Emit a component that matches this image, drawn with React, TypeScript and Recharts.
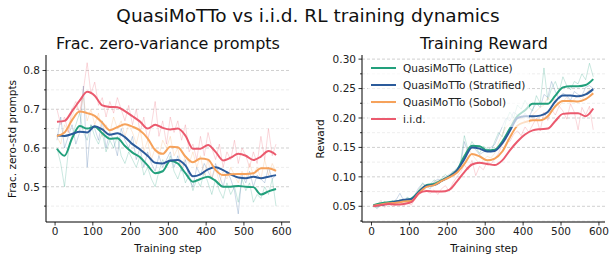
import React from "react";
import { CartesianGrid, Legend, Line, LineChart, XAxis, YAxis } from "recharts";

const FONT = '"DejaVu Sans", sans-serif';

const seriesNames = ["QuasiMoTTo (Lattice)", "QuasiMoTTo (Stratified)", "QuasiMoTTo (Sobol)", "i.i.d."];
const seriesColors = ["#22a07c", "#2b5b9b", "#f6a25b", "#eb5a6e"];

// logged every 10 steps
const rawSteps = [
  5, 15, 25, 35, 45, 55, 65, 75, 85, 95,
  105, 115, 125, 135, 145, 155, 165, 175, 185, 195,
  205, 215, 225, 235, 245, 255, 265, 275, 285, 295,
  305, 315, 325, 335, 345, 355, 365, 375, 385, 395,
  405, 415, 425, 435, 445, 455, 465, 475, 485, 495,
  505, 515, 525, 535, 545, 555, 565, 575, 585,
];

// smoothed curves sampled every 20 steps
const smoothSteps = [
  5, 25, 45, 65, 85, 105, 125, 145, 165, 185,
  205, 225, 245, 265, 285, 305, 325, 345, 365, 385,
  405, 425, 445, 465, 485, 505, 525, 545, 565, 585,
];

// ---- fraction of zero-std prompts ----
const zeroStdRawLattice = [
  0.60, 0.56, 0.50, 0.59, 0.63, 0.66, 0.69, 0.64, 0.62, 0.66,
  0.63, 0.61, 0.64, 0.59, 0.62, 0.60, 0.63, 0.58, 0.56, 0.59,
  0.57, 0.55, 0.58, 0.53, 0.55, 0.52, 0.50, 0.54, 0.57, 0.55,
  0.58, 0.54, 0.52, 0.55, 0.51, 0.53, 0.49, 0.52, 0.50, 0.54,
  0.51, 0.48, 0.52, 0.49, 0.47, 0.51, 0.48, 0.50, 0.46, 0.52,
  0.49, 0.51, 0.46, 0.48, 0.47, 0.50, 0.48, 0.52, 0.45,
];
const zeroStdRawStratified = [
  0.62, 0.68, 0.60, 0.63, 0.66, 0.61, 0.64, 0.76, 0.55, 0.66,
  0.65, 0.62, 0.67, 0.60, 0.64, 0.62, 0.58, 0.65, 0.62, 0.60,
  0.63, 0.57, 0.60, 0.55, 0.59, 0.56, 0.54, 0.58, 0.55, 0.57,
  0.59, 0.55, 0.58, 0.54, 0.57, 0.52, 0.50, 0.55, 0.53, 0.56,
  0.54, 0.52, 0.56, 0.53, 0.50, 0.54, 0.52, 0.49, 0.43, 0.53,
  0.51, 0.54, 0.50, 0.53, 0.52, 0.51, 0.55, 0.52, 0.53,
];
const zeroStdRawSobol = [
  0.63, 0.61, 0.66, 0.64, 0.68, 0.71, 0.69, 0.73, 0.67, 0.70,
  0.66, 0.69, 0.63, 0.66, 0.64, 0.68, 0.65, 0.67, 0.63, 0.66,
  0.64, 0.61, 0.65, 0.59, 0.62, 0.57, 0.60, 0.58, 0.62, 0.60,
  0.63, 0.58, 0.60, 0.55, 0.58, 0.56, 0.59, 0.55, 0.58, 0.53,
  0.57, 0.52, 0.55, 0.51, 0.54, 0.52, 0.55, 0.53, 0.51, 0.54,
  0.52, 0.56, 0.53, 0.55, 0.52, 0.57, 0.53, 0.56, 0.54,
];
const zeroStdRawIid = [
  0.70, 0.66, 0.68, 0.64, 0.70, 0.72, 0.69, 0.75, 0.82, 0.74,
  0.77, 0.71, 0.73, 0.68, 0.72, 0.69, 0.73, 0.70, 0.67, 0.71,
  0.66, 0.70, 0.64, 0.68, 0.62, 0.66, 0.72, 0.63, 0.67, 0.61,
  0.68, 0.64, 0.67, 0.62, 0.66, 0.59, 0.61, 0.57, 0.63, 0.58,
  0.64, 0.60, 0.57, 0.61, 0.55, 0.59, 0.57, 0.62, 0.56, 0.60,
  0.58, 0.55, 0.59, 0.56, 0.63, 0.57, 0.65, 0.58, 0.61,
];

const zeroStdSmoothLattice = [
  0.598, 0.580, 0.625, 0.657, 0.650, 0.655, 0.638, 0.624, 0.625, 0.605,
  0.588, 0.576, 0.555, 0.535, 0.540, 0.567, 0.560, 0.535, 0.513, 0.520,
  0.526, 0.515, 0.500, 0.500, 0.502, 0.500, 0.499, 0.480, 0.488, 0.494,
];
const zeroStdSmoothStratified = [
  0.632, 0.631, 0.636, 0.642, 0.640, 0.656, 0.648, 0.634, 0.638, 0.628,
  0.610, 0.596, 0.580, 0.562, 0.560, 0.568, 0.569, 0.555, 0.527, 0.532,
  0.545, 0.550, 0.543, 0.532, 0.524, 0.522, 0.526, 0.522, 0.526, 0.530,
];
const zeroStdSmoothSobol = [
  0.631, 0.640, 0.672, 0.694, 0.690, 0.683, 0.665, 0.646, 0.654, 0.661,
  0.655, 0.645, 0.625, 0.595, 0.585, 0.603, 0.602, 0.578, 0.563, 0.573,
  0.570, 0.543, 0.530, 0.532, 0.533, 0.533, 0.535, 0.548, 0.548, 0.541,
];
const zeroStdSmoothIid = [
  0.668, 0.670, 0.695, 0.722, 0.745, 0.735, 0.710, 0.706, 0.705, 0.695,
  0.682, 0.668, 0.650, 0.660, 0.652, 0.648, 0.650, 0.632, 0.598, 0.598,
  0.608, 0.590, 0.568, 0.575, 0.585, 0.580, 0.569, 0.578, 0.592, 0.582,
];

// ---- training reward ----
const rewardRawLattice = [
  0.050, 0.047, 0.055, 0.058, 0.052, 0.060, 0.056, 0.062, 0.059, 0.066,
  0.058, 0.064, 0.078, 0.090, 0.083, 0.087, 0.095, 0.090, 0.098, 0.104,
  0.098, 0.110, 0.106, 0.125, 0.170, 0.145, 0.160, 0.150, 0.140, 0.152,
  0.148, 0.142, 0.160, 0.175, 0.168, 0.195, 0.210, 0.200, 0.222, 0.215,
  0.230, 0.218, 0.212, 0.238, 0.225, 0.285, 0.230, 0.250, 0.262, 0.245,
  0.270, 0.255, 0.248, 0.262, 0.258, 0.275, 0.265, 0.293, 0.270,
];
const rewardRawStratified = [
  0.052, 0.046, 0.053, 0.057, 0.055, 0.058, 0.061, 0.072, 0.060, 0.064,
  0.062, 0.070, 0.082, 0.088, 0.084, 0.080, 0.092, 0.096, 0.094, 0.100,
  0.104, 0.108, 0.115, 0.120, 0.160, 0.140, 0.152, 0.146, 0.138, 0.142,
  0.145, 0.150, 0.155, 0.170, 0.185, 0.200, 0.195, 0.210, 0.205, 0.198,
  0.208, 0.200, 0.215, 0.225, 0.218, 0.240, 0.235, 0.262, 0.245, 0.232,
  0.242, 0.238, 0.230, 0.245, 0.240, 0.238, 0.252, 0.255, 0.250,
];
const rewardRawSobol = [
  0.051, 0.055, 0.049, 0.058, 0.054, 0.052, 0.060, 0.055, 0.058, 0.062,
  0.056, 0.066, 0.078, 0.085, 0.082, 0.086, 0.090, 0.094, 0.092, 0.098,
  0.102, 0.106, 0.112, 0.118, 0.135, 0.150, 0.138, 0.130, 0.122, 0.128,
  0.135, 0.132, 0.140, 0.158, 0.172, 0.185, 0.190, 0.198, 0.192, 0.200,
  0.195, 0.190, 0.205, 0.212, 0.218, 0.222, 0.235, 0.228, 0.232, 0.220,
  0.228, 0.235, 0.225, 0.232, 0.238, 0.230, 0.242, 0.248, 0.240,
];
const rewardRawIid = [
  0.050, 0.052, 0.060, 0.048, 0.055, 0.050, 0.052, 0.058, 0.050, 0.056,
  0.052, 0.062, 0.070, 0.082, 0.076, 0.072, 0.078, 0.070, 0.080, 0.085,
  0.076, 0.090, 0.100, 0.108, 0.120, 0.112, 0.128, 0.102, 0.118, 0.112,
  0.125, 0.122, 0.130, 0.140, 0.155, 0.165, 0.160, 0.172, 0.178, 0.170,
  0.185, 0.176, 0.188, 0.200, 0.178, 0.210, 0.196, 0.215, 0.205, 0.220,
  0.212, 0.198, 0.224, 0.210, 0.180, 0.218, 0.205, 0.220, 0.180,
];

const rewardSmoothLattice = [
  0.052, 0.055, 0.057, 0.058, 0.060, 0.063, 0.075, 0.086, 0.088, 0.094,
  0.101, 0.111, 0.135, 0.153, 0.152, 0.145, 0.146, 0.160, 0.182, 0.203,
  0.213, 0.224, 0.224, 0.224, 0.238, 0.252, 0.254, 0.254, 0.256, 0.266,
];
const rewardSmoothStratified = [
  0.051, 0.052, 0.055, 0.058, 0.061, 0.062, 0.074, 0.085, 0.086, 0.093,
  0.100, 0.110, 0.130, 0.150, 0.148, 0.143, 0.144, 0.157, 0.178, 0.200,
  0.203, 0.203, 0.204, 0.210, 0.228, 0.238, 0.238, 0.237, 0.240, 0.249,
];
const rewardSmoothSobol = [
  0.051, 0.053, 0.055, 0.056, 0.058, 0.059, 0.072, 0.083, 0.086, 0.093,
  0.099, 0.107, 0.122, 0.139, 0.135, 0.128, 0.131, 0.143, 0.167, 0.187,
  0.193, 0.196, 0.196, 0.203, 0.220, 0.229, 0.229, 0.228, 0.232, 0.242,
];
const rewardSmoothIid = [
  0.050, 0.052, 0.054, 0.053, 0.054, 0.057, 0.072, 0.076, 0.075, 0.075,
  0.078, 0.092, 0.108, 0.121, 0.124, 0.122, 0.120, 0.128, 0.145, 0.160,
  0.172, 0.179, 0.181, 0.182, 0.195, 0.207, 0.208, 0.208, 0.203, 0.216,
];

const stepTicks = [0, 100, 200, 300, 400, 500, 600];
const zeroStdMajor = [0.5, 0.6, 0.7, 0.8];
const zeroStdMinor = [0.45, 0.55, 0.65, 0.75];
const rewardMajor = [0.05, 0.1, 0.15, 0.2, 0.25, 0.3];
const rewardMinor = [0.025, 0.075, 0.125, 0.175, 0.225, 0.275];

const toPoints = (steps: number[], values: number[]) => steps.map((step, i) => ({ step, v: values[i] }));

type PanelProps = {
  width: number;
  top: number;
  right: number;
  yAxisWidth: number;
  xDomain: [number, number];
  yDomain: [number, number];
  major: number[];
  minor: number[];
  digits: number;
  raw: number[][];
  smooth: number[][];
  legend?: boolean;
};

function YTick(props: any) {
  const { y, payload, major, digits, spineX } = props;
  const isMajor = major.includes(payload.value);
  return (
    <g>
      <line x1={spineX - (isMajor ? 3.5 : 2)} x2={spineX} y1={y} y2={y} stroke="#000" strokeWidth={0.8} />
      {isMajor && (
        <text x={spineX - 6} y={y} dy="0.36em" textAnchor="end" fontSize={10.5} fontFamily={FONT} fill="#222">
          {payload.value.toFixed(digits)}
        </text>
      )}
    </g>
  );
}

// legend with a translucent white frame, as matplotlib draws it
function LegendBox() {
  return (
    <div style={{ display: "inline-block", background: "rgba(255,255,255,0.65)", paddingRight: 4, fontFamily: FONT, fontSize: 10.5, color: "#222" }}>
      {seriesNames.map((name, i) => (
        <div key={name} style={{ display: "flex", alignItems: "center", height: 16.8 }}>
          <svg width={32} height={16}>
            <line x1={3} x2={28} y1={8} y2={8} stroke={seriesColors[i]} strokeWidth={2} />
          </svg>
          <span style={{ marginLeft: 3, whiteSpace: "nowrap" }}>{name}</span>
        </div>
      ))}
    </div>
  );
}

function Panel(p: PanelProps) {
  const allTicks = [...p.major, ...p.minor].sort((a, b) => a - b);
  return (
    <LineChart width={p.width} height={261} margin={{ top: p.top, right: p.right, bottom: 0, left: 0 }}>
      <CartesianGrid vertical={false} horizontalValues={p.minor} stroke="#e8e8e8" strokeDasharray="3 2" strokeWidth={0.8} />
      <CartesianGrid vertical={false} horizontalValues={p.major} stroke="#c4c4c4" strokeDasharray="3 2" strokeWidth={0.8} />
      <XAxis
        dataKey="step"
        type="number"
        domain={p.xDomain}
        allowDataOverflow
        ticks={stepTicks}
        interval={0}
        height={39}
        tickSize={3.5}
        tickMargin={2}
        axisLine={{ stroke: "#000", strokeWidth: 1 }}
        tickLine={{ stroke: "#000", strokeWidth: 0.8 }}
        tick={{ fontSize: 10.5, fontFamily: FONT, fill: "#222" }}
      />
      <YAxis
        type="number"
        domain={p.yDomain}
        allowDataOverflow
        ticks={allTicks}
        interval={0}
        width={p.yAxisWidth}
        tickLine={false}
        axisLine={{ stroke: "#000", strokeWidth: 1 }}
        tick={<YTick major={p.major} digits={p.digits} spineX={p.yAxisWidth} />}
      />
      {p.raw.map((values, i) => (
        <Line
          key={"raw" + i}
          data={toPoints(rawSteps, values)}
          dataKey="v"
          type="linear"
          stroke={seriesColors[i]}
          strokeOpacity={0.24}
          strokeWidth={1}
          dot={false}
          isAnimationActive={false}
        />
      ))}
      {p.smooth.map((values, i) => (
        <Line
          key={"smooth" + i}
          data={toPoints(smoothSteps, values)}
          dataKey="v"
          name={seriesNames[i]}
          type="monotone"
          stroke={seriesColors[i]}
          strokeWidth={2}
          dot={false}
          isAnimationActive={false}
        />
      ))}
      {p.legend && (
        <Legend
          layout="vertical"
          align="center"
          verticalAlign="middle"
          wrapperStyle={{ left: 68, top: 60, width: "auto", height: "auto", lineHeight: "normal" }}
          content={() => <LegendBox />}
        />
      )}
    </LineChart>
  );
}

export default function App() {
  return (
    <div style={{ position: "absolute", left: 0, top: 0, width: 615, height: 261, background: "#fff", overflow: "hidden" }}>
      <div style={{ position: "absolute", left: 0, top: 0 }}>
        <Panel
          width={300}
          top={55}
          right={10}
          yAxisWidth={46}
          xDomain={[-24, 622]}
          yDomain={[0.409, 0.84]}
          major={zeroStdMajor}
          minor={zeroStdMinor}
          digits={1}
          raw={[zeroStdRawLattice, zeroStdRawStratified, zeroStdRawSobol, zeroStdRawIid]}
          smooth={[zeroStdSmoothLattice, zeroStdSmoothStratified, zeroStdSmoothSobol, zeroStdSmoothIid]}
        />
      </div>
      <div style={{ position: "absolute", left: 300, top: 0 }}>
        <Panel
          width={315}
          top={55}
          right={10}
          yAxisWidth={62}
          xDomain={[-25, 616]}
          yDomain={[0.0233, 0.307]}
          major={rewardMajor}
          minor={rewardMinor}
          digits={2}
          raw={[rewardRawLattice, rewardRawStratified, rewardRawSobol, rewardRawIid]}
          smooth={[rewardSmoothLattice, rewardSmoothStratified, rewardSmoothSobol, rewardSmoothIid]}
          legend
        />
      </div>
      <svg width={615} height={261} style={{ position: "absolute", left: 0, top: 0, pointerEvents: "none" }} fontFamily={FONT} fill="#111">
        <text x={308} y={22} textAnchor="middle" fontSize={18.5}>QuasiMoTTo vs i.i.d. RL training dynamics</text>
        <text x={168} y={49} textAnchor="middle" fontSize={16}>Frac. zero-variance prompts</text>
        <text x={484} y={49} textAnchor="middle" fontSize={16}>Training Reward</text>
        <text x={168} y={252} textAnchor="middle" fontSize={10.5}>Training step</text>
        <text x={484} y={252} textAnchor="middle" fontSize={10.5}>Training step</text>
        <text transform="translate(16,139) rotate(-90)" textAnchor="middle" fontSize={10.5}>Frac. zero-std prompts</text>
        <text transform="translate(324,139) rotate(-90)" textAnchor="middle" fontSize={10.5}>Reward</text>
      </svg>
    </div>
  );
}
